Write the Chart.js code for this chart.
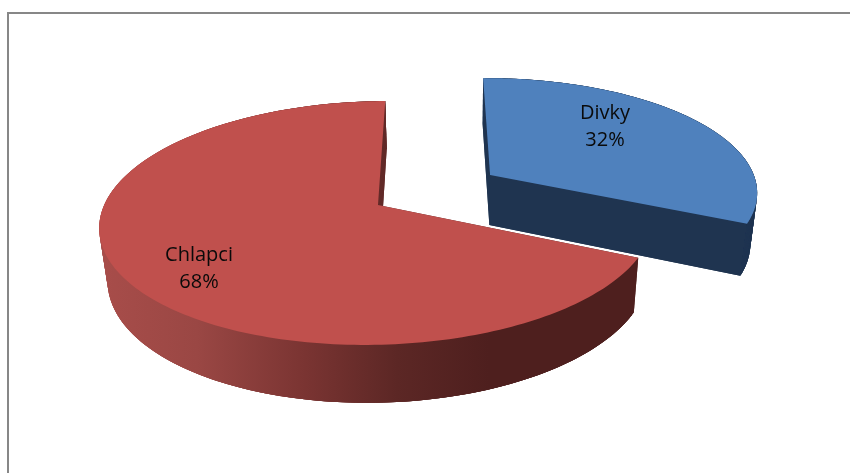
<!DOCTYPE html>
<html><head><meta charset="utf-8">
<style>html,body{margin:0;padding:0;background:#fff}#w{position:absolute;left:0;top:0;width:850px;height:473px}</style>
<script src="https://cdn.jsdelivr.net/npm/chart.js@4/dist/chart.umd.js"></script>
</head><body><div id="w"><canvas id="c" width="850" height="473"></canvas></div>
<script>
const categories = ['Divky', 'Chlapci'];
const shares = [32, 68];
const faceColors = ['#4f81bd', '#c0504d'];
const wallColors = ['#1f3450', null];
const explode = [[0.414, -0.261], [0, 0]];
const depths = [52.5, 54];
const labelAt = [[605, 113], [199, 255]];

// perspective camera
const cam = {cx:457, apexX:378, apexY:205, a:273.8, b:119.3, k:0.1475, drop:0.0235};
function proj(u, v, h){
  const w = 1 - cam.k*v + (h ? cam.drop : 0);
  return [cam.cx + (cam.a*u + cam.apexX - cam.cx)/w, cam.apexY + (cam.b*v + h)/w];
}
function rim(el, i, n){
  const t = el.startAngle + (el.endAngle - el.startAngle)*n;
  return [explode[i][0] + Math.cos(t), explode[i][1] + Math.sin(t)];
}
const perspectivePie = {
  id:'perspectivePie',
  beforeDatasetDraw(chart, args){
    const ctx = chart.ctx, meta = args.meta, N = 200;
    ctx.save();
    const g = ctx.createLinearGradient(100,0,640,0);
    g.addColorStop(0,'#a84d4a'); g.addColorStop(0.18,'#9a4744');
    g.addColorStop(0.38,'#7a3432'); g.addColorStop(0.55,'#5c2725');
    g.addColorStop(0.72,'#4e1f1e'); g.addColorStop(1,'#4e1f1e');
    [0,1].forEach(i=>{
      const el = meta.data[i], h = depths[i];
      const pts = []; for(let n=0;n<=N;n++) pts.push(rim(el,i,n/N));
      const ap = explode[i];
      const poly = list=>{
        ctx.beginPath();
        list.forEach((q,j)=>{ j?ctx.lineTo(q[0],q[1]):ctx.moveTo(q[0],q[1]); });
        ctx.closePath();
      };
      const top = p=>proj(p[0],p[1],0), low = p=>proj(p[0],p[1],h);
      ctx.fillStyle = wallColors[i] || g;
      // bottom face
      poly([low(ap)].concat(pts.map(low))); ctx.fill();
      // radial walls
      [pts[0],pts[N]].forEach(e=>{ poly([top(ap),top(e),low(e),low(ap)]); ctx.fill(); });
      // outer wall, overlapping strips so no seams show
      for(let n=0;n<N;n++){
        const p=pts[n], q=pts[Math.min(n+3,N)];
        poly([top(p),top(q),low(q),low(p)]); ctx.fill();
      }
      // top face
      poly([top(ap)].concat(pts.map(top)));
      ctx.fillStyle = faceColors[i]; ctx.fill();
    });
    // labels
    ctx.fillStyle = '#0a0a0a'; ctx.font = '20px "Open Sans"'; ctx.textAlign='center'; ctx.textBaseline='middle';
    categories.forEach((c,i)=>{
      ctx.fillText(c, labelAt[i][0], labelAt[i][1]);
      ctx.fillText(shares[i]+'%', labelAt[i][0], labelAt[i][1]+27);
    });
    ctx.restore();
    return false;
  }
};
const frame = {
  id:'frame',
  beforeDraw(chart){
    const ctx = chart.ctx;
    ctx.save(); ctx.strokeStyle='#878787'; ctx.lineWidth=2;
    ctx.beginPath(); ctx.moveTo(8,473); ctx.lineTo(8,13); ctx.lineTo(850,13); ctx.stroke();
    ctx.restore();
  }
};
new Chart(document.getElementById('c'), {
  type:'pie',
  data:{labels:categories, datasets:[{data:shares, backgroundColor:faceColors, borderWidth:0}]},
  options:{
    responsive:false, animation:false, rotation:-0.7,
    plugins:{legend:{display:false}, tooltip:{enabled:false}}
  },
  plugins:[frame, perspectivePie]
});
</script></body></html>
